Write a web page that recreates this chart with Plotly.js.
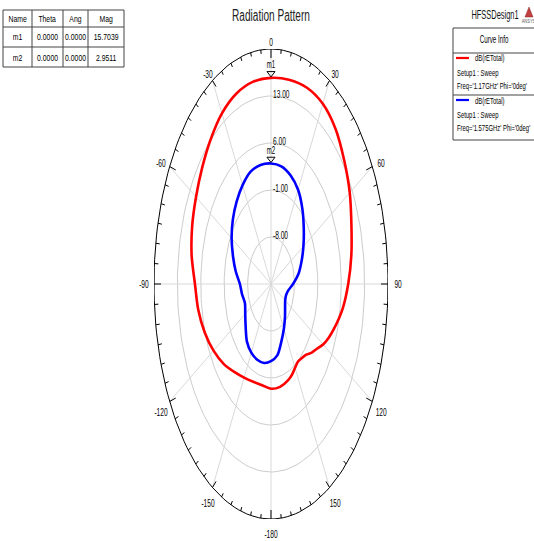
<!DOCTYPE html>
<html>
<head>
<meta charset="utf-8">
<script src="https://cdn.plot.ly/plotly-3.0.1.min.js"></script>
<style>
  html, body { margin: 0; padding: 0; background: #ffffff; }
  #chart { width: 534px; height: 541px; }
</style>
</head>
<body>
<div id="chart"></div>
<script>
// ---- radial scale (dB) ----
const radialMin = -15;
const radialMax = 20;
const radialTicks = [-8, -1, 6, 13];
const radialTickLabels = ['-8.00', '-1.00', '6.00', '13.00'];

// ---- angular scale (deg) ----
const angleTicks = [0, 30, 60, 90, 120, 150, 180, -150, -120, -90, -60, -30];
const angleTickLabels = ['0', '30', '60', '90', '120', '150', '-180', '-150', '-120', '-90', '-60', '-30'];

// ---- dB(rETotal), Freq='1.17GHz' ----
const thetaRed = [-180, -170, -160, -150, -140, -130, -120, -110, -100, -90, -80, -70, -60, -50, -40, -30, -20, -10,
                  0, 10, 20, 30, 40, 50, 60, 70, 80, 90, 100, 110, 115, 120, 125, 130, 135, 140, 145, 150, 155, 160, 170, 180];
const gainRed = [0.6, 0.3, 0.5, 1.1, 2.1, 3.5, 4.85, 6.1, 7.1, 7.75, 9.1, 10.1, 10.9, 11.9, 13.1, 14.35, 15.2, 15.6,
                 15.7039, 15.9, 16.15, 16.0, 15.1, 13.6, 12.2, 10.6, 9.4, 8.1, 6.7, 4.9, 4.0, 3.0, 1.8, 0.9, -0.1, -0.6, -0.9, -0.6, -0.1, 0.2, 0.55, 0.6];

// ---- dB(rETotal), Freq='1.575GHz' ----
const thetaBlue = [-180, -170, -160, -150, -140, -130, -120, -110, -100, -90, -80, -70, -60, -50, -40, -30, -20, -10,
                   0, 10, 20, 30, 40, 50, 60, 70, 80, 90, 100, 110, 120, 130, 140, 150, 160, 170, 180];
const gainBlue = [-3.5, -3.05, -3.0, -3.2, -3.8, -5.1, -6.1, -6.7, -6.2, -5.7, -4.3, -2.9, -1.4, -0.1, 1.0, 2.0, 2.8, 3.0,
                  2.9511, 2.8, 2.2, 1.2, -0.4, -2.2, -3.8, -5.3, -6.7, -8.4, -9.7, -10.2, -10.1, -9.5, -8.5, -7.3, -5.9, -4.2, -3.5];

// ---- marker table ----
const markerNames = ['m1', 'm2'];
const markerTheta = [0, 0];
const markerAng = [0, 0];
const markerMag = [15.7039, 2.9511];
const tableHeaders = ['Name', 'Theta', 'Ang', 'Mag'];

// ---- curve info ----
const curveColors = ['#ff0000', '#0000ff'];
const curveExpr = ['dB(rETotal)', 'dB(rETotal)'];
const curveSetup = ['Setup1 : Sweep', 'Setup1 : Sweep'];
const curveFreq = ["Freq='1.17GHz' Phi='0deg'", "Freq='1.575GHz' Phi='0deg'"];

// ---- page geometry (pixels) ----
const W = 534, H = 541;
const L = 154, T = 49, PW = 234, PH = 470;   // plotting area
const span = radialMax - radialMin;
const pxX = PW / (2 * span), pxY = PH / (2 * span);
const FONT = "'Liberation Sans', Arial, sans-serif";
const NARROW = 0.62;   // horizontal squeeze for a condensed look
const deg = Math.PI / 180;

function toXY(r, th) {
  const u = r - radialMin;
  return [u * Math.sin(th * deg), u * Math.cos(th * deg)];
}
function curve(thetas, gains) {
  const x = [], y = [];
  thetas.forEach((t, i) => { const p = toXY(gains[i], t); x.push(p[0]); y.push(p[1]); });
  return { x, y };
}
function ring(r, x, y) {
  for (let t = 0; t <= 360; t += 2) { const p = toXY(r, t); x.push(p[0]); y.push(p[1]); }
  x.push(null); y.push(null);
}
// paper coordinates from page pixels
const px = v => (v - L) / PW;
const py = v => (T + PH - v) / PH;

// grid rings
const gx = [], gy = [];
radialTicks.forEach(v => ring(v, gx, gy));
// spokes
const sx = [], sy = [];
angleTicks.forEach(a => { const p = toXY(radialMax, a); sx.push(0, p[0], null); sy.push(0, p[1], null); });
// outer boundary
const ox = [], oy = [];
ring(radialMax, ox, oy);
// angular tick marks, every 5 deg
const tx = [], ty = [];
for (let a = 0; a < 360; a += 5) {
  const len = (a % 180 === 0) ? 9 : (a % 30 === 0 ? 7 : 4);
  const p = toXY(radialMax, a);
  tx.push(p[0], p[0] - len * Math.sin(a * deg) / pxX, null);
  ty.push(p[1], p[1] - len * Math.cos(a * deg) / pxY, null);
}

const red = curve(thetaRed, gainRed);
const blue = curve(thetaBlue, gainBlue);

// marker triangles sit just above their curve point
const mk = markerMag.map((m, i) => toXY(m, markerTheta[i]));
const triLift = 4.5 / pxY;

const traces = [
  { x: gx, y: gy, mode: 'lines', line: { color: '#cccccc', width: 1 }, hoverinfo: 'skip' },
  { x: sx, y: sy, mode: 'lines', line: { color: '#d9d9d9', width: 1 }, hoverinfo: 'skip' },
  { x: ox, y: oy, mode: 'lines', line: { color: '#000000', width: 1 }, hoverinfo: 'skip' },
  { x: tx, y: ty, mode: 'lines', line: { color: '#000000', width: 1 }, hoverinfo: 'skip' },
  { x: red.x, y: red.y, mode: 'lines', line: { color: curveColors[0], width: 2.6, shape: 'spline', smoothing: 0.8 } },
  { x: blue.x, y: blue.y, mode: 'lines', line: { color: curveColors[1], width: 2.6, shape: 'spline', smoothing: 0.8 } },
  { x: mk.map(p => p[0]), y: mk.map(p => p[1] + triLift), mode: 'markers',
    marker: { symbol: 'triangle-down-open', size: 7, color: '#000000', line: { width: 1 } } }
];

const annotations = [];
const squeeze = [];
const shapes = [];
function note(a, k) { annotations.push(a); squeeze.push(k === undefined ? NARROW : k); }

// angular labels
angleTicks.forEach((a, i) => {
  const p = toXY(radialMax, a);
  const s = Math.sin(a * deg), c = Math.cos(a * deg);
  note({
    x: p[0], y: p[1], xref: 'x', yref: 'y', text: angleTickLabels[i], showarrow: false, xanchor: 'center',
    xshift: 10 * s, yshift: c >= 0 ? 7.5 * c : 15 * c - 4 * Math.abs(s),
    font: { family: FONT, size: 11, color: '#000' }
  }, 0.6);
});
// radial labels along the 0 deg spoke
radialTicks.forEach((v, i) => {
  note({
    x: 0, y: v - radialMin, xref: 'x', yref: 'y', text: radialTickLabels[i], showarrow: false,
    xanchor: 'left', yanchor: 'middle', xshift: 0, yshift: 2,
    font: { family: FONT, size: 10, color: '#000' }
  }, 0.66);
});
// marker names
markerNames.forEach((n, i) => {
  note({
    x: mk[i][0], y: mk[i][1], xref: 'x', yref: 'y', text: n, showarrow: false, xanchor: 'center',
    yshift: 13, font: { family: FONT, size: 10, color: '#000' }
  }, 0.6);
});

// marker table
const colEdges = [3, 32, 63, 88, 124];
const rowEdges = [10, 27, 47, 67];
shapes.push({ type: 'rect', xref: 'paper', yref: 'paper', x0: px(colEdges[0]), x1: px(colEdges[4]),
  y0: py(rowEdges[0]), y1: py(rowEdges[3]), line: { color: '#444', width: 1 } });
colEdges.slice(1, 4).forEach(c => shapes.push({ type: 'line', xref: 'paper', yref: 'paper',
  x0: px(c), x1: px(c), y0: py(rowEdges[0]), y1: py(rowEdges[3]), line: { color: '#444', width: 1 } }));
rowEdges.slice(1, 3).forEach(r => shapes.push({ type: 'line', xref: 'paper', yref: 'paper',
  x0: px(colEdges[0]), x1: px(colEdges[4]), y0: py(r), y1: py(r), line: { color: '#444', width: 1 } }));
const tableRows = [tableHeaders].concat(markerNames.map((n, i) =>
  [n, markerTheta[i].toFixed(4), markerAng[i].toFixed(4), markerMag[i].toFixed(4)]));
tableRows.forEach((row, r) => {
  row.forEach((txt, c) => {
    note({
      xref: 'paper', yref: 'paper', x: px((colEdges[c] + colEdges[c + 1]) / 2),
      y: py((rowEdges[r] + rowEdges[r + 1]) / 2), text: txt, showarrow: false,
      xanchor: 'center', yanchor: 'middle', font: { family: FONT, size: 9.5, color: '#000' }
    }, 0.72);
  });
});

// curve info box
const boxL = 453, boxR = 545;
shapes.push({ type: 'rect', xref: 'paper', yref: 'paper', x0: px(boxL), x1: px(boxR), y0: py(28), y1: py(140),
  line: { color: '#444', width: 1 } });
[53, 95].forEach(r => shapes.push({ type: 'line', xref: 'paper', yref: 'paper',
  x0: px(boxL), x1: px(boxR), y0: py(r), y1: py(r), line: { color: '#444', width: 1 } }));
note({ xref: 'paper', yref: 'paper', x: px(494), y: py(40), text: 'Curve Info', showarrow: false,
  xanchor: 'center', yanchor: 'middle', font: { family: FONT, size: 10, color: '#000' } });
[58, 100].forEach((y0, i) => {
  shapes.push({ type: 'line', xref: 'paper', yref: 'paper', x0: px(456), x1: px(469), y0: py(y0), y1: py(y0),
    line: { color: curveColors[i], width: 2.2 } });
  note({ xref: 'paper', yref: 'paper', x: px(473), y: py(y0), text: curveExpr[i], showarrow: false,
    xanchor: 'left', yanchor: 'middle', font: { family: FONT, size: 9.5, color: '#000' } });
  note({ xref: 'paper', yref: 'paper', x: px(455), y: py(y0 + 14), text: curveSetup[i], showarrow: false,
    xanchor: 'left', yanchor: 'middle', font: { family: FONT, size: 9.5, color: '#000' } });
  note({ xref: 'paper', yref: 'paper', x: px(455), y: py(y0 + 28), text: curveFreq[i], showarrow: false,
    xanchor: 'left', yanchor: 'middle', font: { family: FONT, size: 9.5, color: '#000' } });
});

// design name and logo
note({ xref: 'paper', yref: 'paper', x: px(495), y: py(15), text: 'HFSSDesign1', showarrow: false,
  xanchor: 'center', yanchor: 'middle', font: { family: FONT, size: 12, color: '#111' } });
shapes.push({ type: 'path', xref: 'paper', yref: 'paper',
  path: 'M ' + px(525) + ' ' + py(17) + ' L ' + px(529) + ' ' + py(7) + ' L ' + px(533) + ' ' + py(17) + ' Z',
  fillcolor: '#c24040', line: { color: '#8a2a2a', width: 0.5 } });
note({ xref: 'paper', yref: 'paper', x: px(529), y: py(21), text: 'ANSYS', showarrow: false,
  xanchor: 'center', yanchor: 'middle', font: { family: FONT, size: 5, color: '#555' } }, 0.8);

const layout = {
  width: W, height: H,
  margin: { l: L, r: W - L - PW, t: T, b: H - T - PH, pad: 0 },
  paper_bgcolor: '#ffffff', plot_bgcolor: '#ffffff',
  showlegend: false, hovermode: false,
  title: { text: 'Radiation Pattern', x: 0.5, xref: 'paper', y: 1 - 15 / H, yanchor: 'middle',
           font: { family: FONT, size: 16, color: '#222' } },
  xaxis: { range: [-span, span], visible: false, fixedrange: true },
  yaxis: { range: [-span, span], visible: false, fixedrange: true },
  annotations: annotations,
  shapes: shapes
};

// narrow a text element (and its background box), keeping its anchor point fixed
function squeezeText(t, k, keepLeft, bg) {
  if (!t || !t.textContent || k === 1) return;
  const len = t.getComputedTextLength();
  if (!(len > 0)) return;
  const cut = (1 - k) * len;
  t.setAttribute('textLength', (len * k).toFixed(2));
  t.setAttribute('lengthAdjust', 'spacingAndGlyphs');
  if (keepLeft) t.setAttribute('transform', 'translate(' + (-cut / 2).toFixed(2) + ',0)');
  if (bg) {
    const w = +bg.getAttribute('width'), x = +bg.getAttribute('x');
    bg.setAttribute('width', Math.max(0, w - cut).toFixed(2));
    if (!keepLeft) bg.setAttribute('x', (x + cut / 2).toFixed(2));
  }
}
function condense(gd) {
  gd.querySelectorAll('g.annotation').forEach(g => {
    const i = +g.getAttribute('data-index');
    squeezeText(g.querySelector('text'), squeeze[i], annotations[i].xanchor === 'left', g.querySelector('rect.bg'));
  });
  squeezeText(gd.querySelector('.gtitle'), 0.63, false, null);
}

Plotly.newPlot('chart', traces, layout, { displayModeBar: false, staticPlot: true })
  .then(gd => condense(gd));
</script>
</body>
</html>
